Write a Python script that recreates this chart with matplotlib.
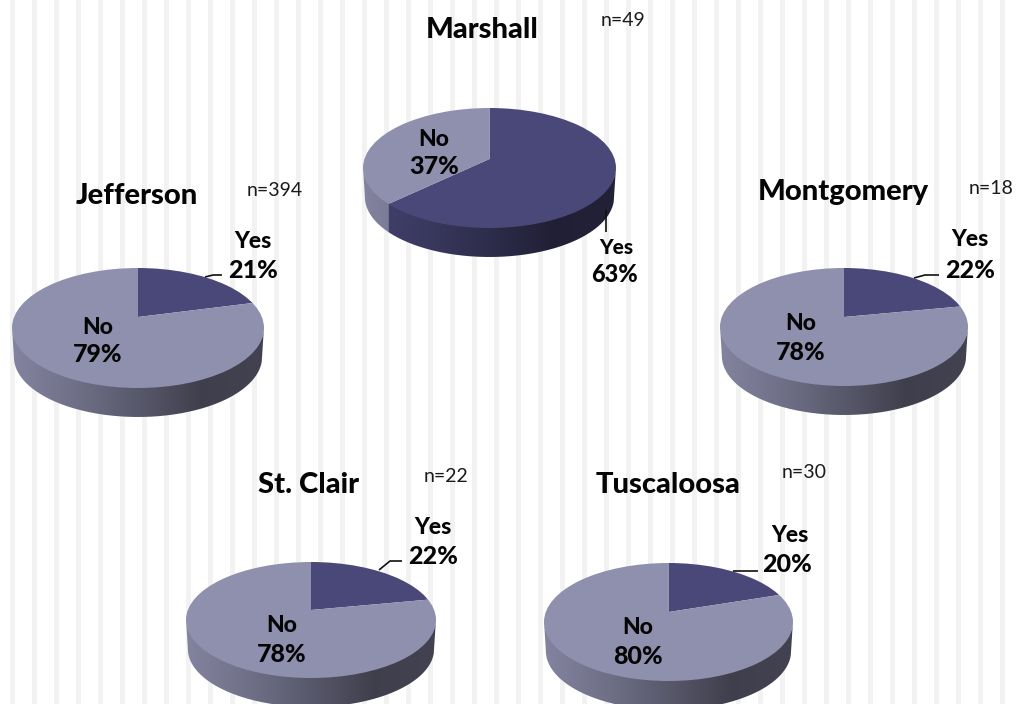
import numpy as np
import matplotlib
matplotlib.use("Agg")
import matplotlib.pyplot as plt
from matplotlib.patches import Circle, PathPatch
from matplotlib.path import Path
from matplotlib.colors import to_rgb

plt.rcParams['font.family'] = ['Lato', 'DejaVu Sans']

# ---- data ----
counties = ["Marshall", "Jefferson", "Montgomery", "St. Clair", "Tuscaloosa"]
yes_pct = [63, 21, 22, 22, 20]
no_pct = [37, 79, 78, 78, 80]
n_values = [49, 394, 18, 22, 30]

# ---- layout (pixels) ----
W, H = 1018, 704
boxes = [  # left, right, top, ellipse bottom, apex y
    (363, 616, 108, 228, 159),
    (12, 264, 268, 388, 317),
    (720, 968, 268, 386, 317),
    (186, 436, 562, 678, 610),
    (544, 793, 563, 681, 612),
]
depth = 29
title_xy = [(482, 30), (137, 196), (843, 192), (309, 485), (668, 485)]
n_xy = [(623, 21), (275, 191), (991, 189), (446, 476), (804, 473)]
yes_xy = [(616, 248, 615, 275), (253, 242, 253, 270), (970, 240, 970, 270),
          (433, 527, 433, 557), (790, 536, 787, 565)]
no_xy = [(434, 140, 434, 166), (98, 327, 98, 355), (801, 323, 801, 352),
         (282, 625, 282, 654), (638, 627, 638, 656)]
leaders = [[(606, 210), (606, 232)],
           [(205, 277), (213, 275), (222, 275)],
           [(914, 278), (925, 275), (939, 275)],
           [(379, 570), (390, 561), (402, 561)],
           [(733, 571), (758, 571)]]
stripe_start, stripe_w, stripe_period = 10, 5, 22

YES_C = "#4a4879"
NO_C = "#8f8fae"
TEXT_C = "#050505"
BOLD = 900

fig = plt.figure(figsize=(W / 100, H / 100), dpi=100, facecolor="white")

bg = fig.add_axes([0, 0, 1, 1], zorder=0)
bg.set_xlim(0, W)
bg.set_ylim(H, 0)
bg.axis("off")
for sx in range(stripe_start, W, stripe_period):
    bg.axvspan(sx, sx + stripe_w, color="#f2f2f2", lw=0)

shade_t = [0.0, 0.25, 0.5, 0.75, 1.0]
shade_v = [0.92, 0.78, 0.62, 0.44, 0.46]

for i, (L, R, T, B, A) in enumerate(boxes):
    yes, no = yes_pct[i], no_pct[i]
    a, b = (R - L) / 2, (B - T) / 2
    cx, cy = (L + R) / 2, (T + B) / 2
    pad = 6
    x0, x1 = L - pad, R + pad
    y0, y1 = T - pad, B + depth + pad
    ax = fig.add_axes([x0 / W, 1 - y1 / H, (x1 - x0) / W, (y1 - y0) / H], zorder=1)
    offy = (cy - A) / b
    d = depth / b
    # the wedge boundary meets the ellipse here (decides the side-wall colours)
    ang = np.pi / 2 - 2 * np.pi * yes / (yes + no)
    ux, uy = np.cos(ang), np.sin(ang)
    qb = uy * offy
    qc = offy ** 2 - 1
    s = -qb + np.sqrt(qb ** 2 - qc)
    bx = s * ux

    # top face
    wedges, _ = ax.pie([yes, no], colors=[YES_C, NO_C], startangle=90,
                       counterclock=False, center=(0, offy), radius=2.4,
                       wedgeprops=dict(lw=0))
    ax.set_aspect("auto")
    ax.set_xlim(-1 - pad / a, 1 + pad / a)
    ax.set_ylim(-(y1 - cy) / b, (cy - y0) / b)
    clip = Circle((0, 0), 1, transform=ax.transData)
    for w in wedges:
        w.set_zorder(2)
        w.set_clip_on(True)
        w.set_clip_path(clip)

    # side wall: the lower rim is a little narrower than the top (perspective)
    xs = np.linspace(-1, 1, 500)
    t = (xs + 1) / 2
    shade = np.interp(t, shade_t, shade_v)
    img = np.zeros((2, xs.size, 3))
    yc, nc = np.array(to_rgb(YES_C)), np.array(to_rgb(NO_C))
    for k, x in enumerate(xs):
        base = yc if (uy < 0 and x > bx) else nc
        img[:, k, :] = base * shade[k]
    th = np.linspace(np.pi, 2 * np.pi, 200)
    vx = np.r_[np.cos(th), 0.985 * np.cos(th[::-1])]
    vy = np.r_[np.sin(th) + 0.02, np.sin(th[::-1]) - d]
    wall = PathPatch(Path(np.c_[vx, vy]), transform=ax.transData, fc="none", ec="none")
    ax.add_patch(wall)
    im = ax.imshow(img, extent=(-1, 1, -1 - d, 0.05), aspect="auto", zorder=1)
    im.set_clip_path(wall)
    ax.set_xlim(-1 - pad / a, 1 + pad / a)
    ax.set_ylim(-(y1 - cy) / b, (cy - y0) / b)
    ax.axis("off")

ov = fig.add_axes([0, 0, 1, 1], zorder=2)
ov.set_xlim(0, W)
ov.set_ylim(H, 0)
ov.axis("off")
ov.patch.set_alpha(0)

for i, name in enumerate(counties):
    ov.text(*title_xy[i], name, ha="center", va="center", fontsize=21,
            fontweight=BOLD, color=TEXT_C)
    ov.text(*n_xy[i], f"n={n_values[i]}", ha="center", va="center", fontsize=14,
            color="#1a1a1a")
    yx, yy, px, py = yes_xy[i]
    ov.text(yx, yy, "Yes", ha="center", va="center", fontsize=16.5 if i else 15,
            fontweight=BOLD, color=TEXT_C)
    ov.text(px, py, f"{yes_pct[i]}%", ha="center", va="center", fontsize=18 if i else 17,
            fontweight=BOLD, color=TEXT_C)
    yx, yy, px, py = no_xy[i]
    ov.text(yx, yy, "No", ha="center", va="center", fontsize=16.5,
            fontweight=BOLD, color=TEXT_C)
    ov.text(px, py, f"{no_pct[i]}%", ha="center", va="center", fontsize=18,
            fontweight=BOLD, color=TEXT_C)
    lx, ly = zip(*leaders[i])
    ov.plot(lx, ly, color="#111111", lw=1.2, solid_capstyle="butt")

fig.savefig("out.png", dpi=100, facecolor="white")
